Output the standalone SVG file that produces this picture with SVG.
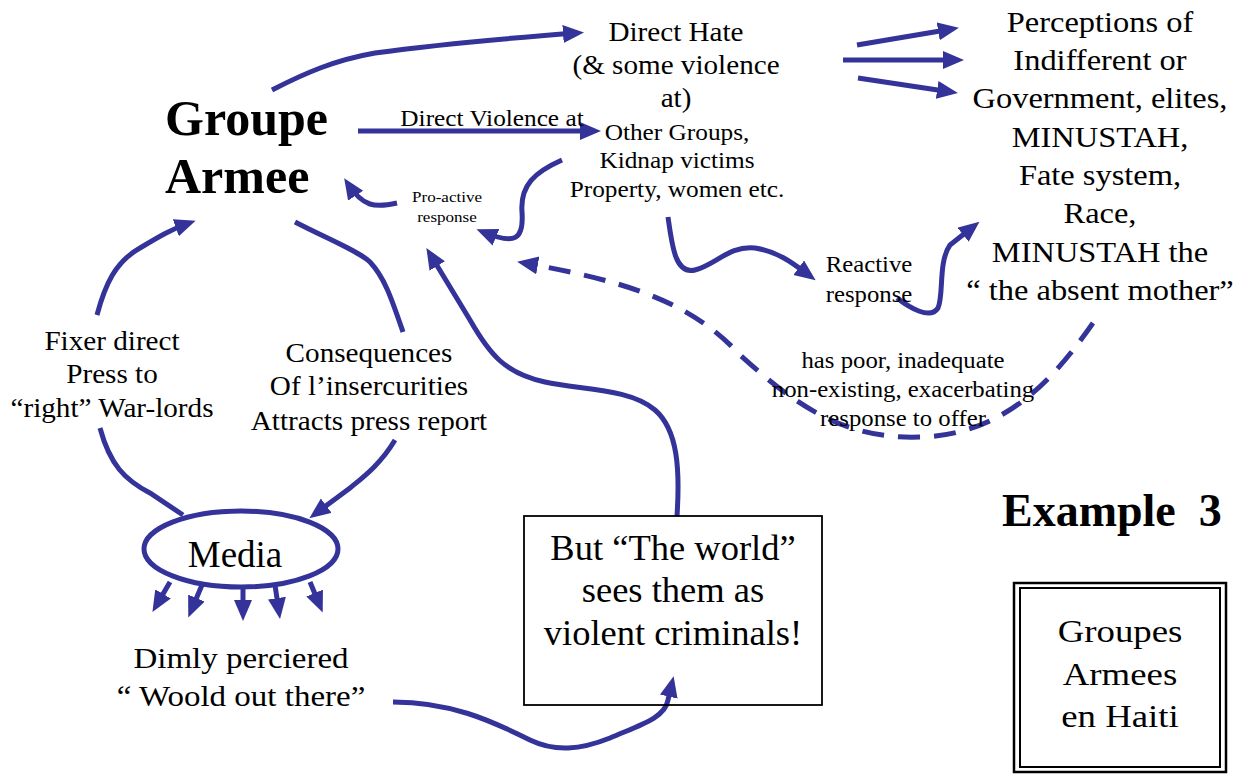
<svg xmlns="http://www.w3.org/2000/svg" width="1245" height="778" viewBox="0 0 1245 778">
<style>
text{font-family:"Liberation Serif","Times New Roman",serif;fill:#000;}
.c{text-anchor:middle;}
.b{font-weight:bold;}
.ln{fill:none;stroke:#333399;stroke-width:5;}
.ar{marker-end:url(#ah);}
.dash{stroke-dasharray:22 14;}
</style>
<defs>
<marker id="ah" markerUnits="userSpaceOnUse" markerWidth="22" markerHeight="20" refX="14" refY="9" orient="auto">
<path d="M0,0 L21,9 L0,18 Z" fill="#333399"/>
</marker>
</defs>
<rect width="1245" height="778" fill="#fff"/>

<g id="connectors">
<path class="ln ar" d="M272,90 C305,73 335,60 375,53 C440,44 510,38 577,33"/>
<path class="ln ar" d="M358,131 L594,131"/>
<path class="ln ar" d="M857,45 L952,29"/>
<path class="ln ar" d="M843,60 L957,60"/>
<path class="ln ar" d="M858,78 L951,92"/>
<path class="ln ar" d="M897,298 C910,308 930,320 938,308 C944,295 938,262 950,245 L974,226"/>
<path class="ln ar" d="M668,217 C672,245 675,275 695,270 C715,265 730,245 755,248 C780,252 795,265 810,276"/>
<path class="ln ar" d="M562,160 C535,172 520,185 522,212 C524,240 515,245 483,232"/>
<path class="ln ar" d="M397,203 C375,208 363,207 348,184"/>
<path class="ln ar" d="M97,315 C105,285 115,262 140,248 C160,236 172,229 189,223"/>
<path class="ln" d="M295,222 C330,240 360,252 370,262 C385,278 392,300 403,332"/>
<path class="ln" d="M100,428 C110,465 125,480 150,493 L183,515"/>
<path class="ln ar" d="M395,440 C380,465 362,478 350,488 L315,514"/>
<path class="ln ar" d="M170,582 L156,606"/>
<path class="ln ar" d="M202,585 L191,611"/>
<path class="ln ar" d="M243,587 L243,614"/>
<path class="ln ar" d="M275,585 L279,612"/>
<path class="ln ar" d="M310,582 L320,606"/>
<path class="ln ar" d="M393,702 C450,702 490,720 530,740 C555,752 580,750 610,738 C640,725 665,718 668,700 L672,683"/>
<path class="ln ar" d="M677,516 C680,470 678,430 655,410 C630,388 580,390 545,382 C505,373 490,355 470,320 L430,254"/>
<path class="ln ar dash" d="M1093,323 C1060,370 1010,435 920,437 C840,440 790,400 740,355 C690,300 620,280 524,263"/>
</g>

<g id="groupe-armee">
<text class="b" x="165" y="135" font-size="50">Groupe</text>
<text class="b" x="165" y="193" font-size="50">Armee</text>
</g>

<g id="direct-hate">
<g transform="translate(676 0) scale(1.1 1)">
<text class="c" x="0" y="41" font-size="26.5">Direct Hate</text>
<text class="c" x="0" y="74" font-size="26.5">(&amp; some violence</text>
<text class="c" x="0" y="107" font-size="26.5">at)</text>
</g>
</g>

<g id="direct-violence-label">
<g transform="translate(492 0) scale(1.1 1)">
<text class="c" x="0" y="126" font-size="23">Direct Violence at</text>
</g>
</g>

<g id="other-groups">
<g transform="translate(677 0) scale(1.1 1)">
<text class="c" x="0" y="140" font-size="23">Other Groups,</text>
<text class="c" x="0" y="168" font-size="23">Kidnap victims</text>
<text class="c" x="0" y="197" font-size="23">Property, women etc.</text>
</g>
</g>

<g id="pro-active">
<g transform="translate(447 0) scale(1.1 1)">
<text class="c" x="0" y="202" font-size="15.5">Pro-active</text>
<text class="c" x="0" y="222" font-size="15.5">response</text>
</g>
</g>

<g id="reactive">
<g transform="translate(869 0) scale(1.1 1)">
<text class="c" x="0" y="272" font-size="22.5">Reactive</text>
<text class="c" x="0" y="302" font-size="22.5">response</text>
</g>
</g>

<g id="perceptions">
<g transform="translate(1100 0) scale(1.1 1)">
<text class="c" x="0" y="32" font-size="29.5">Perceptions of</text>
<text class="c" x="0" y="70" font-size="29.5">Indifferent or</text>
<text class="c" x="0" y="108" font-size="29.5">Government, elites,</text>
<text class="c" x="0" y="147" font-size="29.5">MINUSTAH,</text>
<text class="c" x="0" y="185" font-size="29.5">Fate system,</text>
<text class="c" x="0" y="223" font-size="29.5">Race,</text>
<text class="c" x="0" y="262" font-size="29.5">MINUSTAH the</text>
<text class="c" x="0" y="300" font-size="29.5">“ the absent mother”</text>
</g>
</g>

<g id="poor-response">
<g transform="translate(903 0) scale(1.1 1)">
<text class="c" x="0" y="368" font-size="22.5">has poor, inadequate</text>
<text class="c" x="0" y="397" font-size="22.5">non-existing, exacerbating</text>
<text class="c" x="0" y="426" font-size="22.5">response to offer</text>
</g>
</g>

<g id="fixer">
<g transform="translate(112 0) scale(1.08 1)">
<text class="c" x="0" y="350" font-size="27">Fixer direct</text>
<text class="c" x="0" y="383" font-size="27">Press to</text>
<text class="c" x="0" y="417" font-size="27">“right” War-lords</text>
</g>
</g>

<g id="consequences">
<g transform="translate(369 0) scale(1.08 1)">
<text class="c" x="0" y="362" font-size="27">Consequences</text>
<text class="c" x="0" y="395" font-size="27">Of l’insercurities</text>
<text class="c" x="0" y="430" font-size="27">Attracts press report</text>
</g>
</g>

<g id="media">
<ellipse cx="241" cy="549" rx="97" ry="38" fill="#fff" stroke="#333399" stroke-width="5"/>
<text class="c" x="235" y="567" font-size="37">Media</text>
</g>

<g id="dimly">
<g transform="translate(241 0) scale(1.1 1)">
<text class="c" x="0" y="668" font-size="30">Dimly perciered</text>
<text class="c" x="0" y="706" font-size="30">“ Woold out there”</text>
</g>
</g>

<g id="world-box">
<rect x="524" y="516" width="298" height="189" fill="none" stroke="#000" stroke-width="1.8"/>
<text class="c" x="673" y="560" font-size="36.5">But “The world”</text>
<text class="c" x="673" y="602" font-size="36.5">sees them as</text>
<text class="c" x="673" y="645" font-size="36.5">violent criminals!</text>
</g>

<g id="example">
<text class="b" x="1002" y="526" font-size="46" style="white-space:pre">Example  3</text>
</g>

<g id="title-box">
<rect x="1014" y="583" width="212" height="189" fill="none" stroke="#000" stroke-width="2.5"/>
<rect x="1020" y="588" width="200" height="179" fill="none" stroke="#000" stroke-width="2"/>
<g transform="translate(1120 0) scale(1.15 1)">
<text class="c" x="0" y="642" font-size="32">Groupes</text>
<text class="c" x="0" y="685" font-size="32">Armees</text>
<text class="c" x="0" y="727" font-size="32">en Haiti</text>
</g>
</g>
</svg>
